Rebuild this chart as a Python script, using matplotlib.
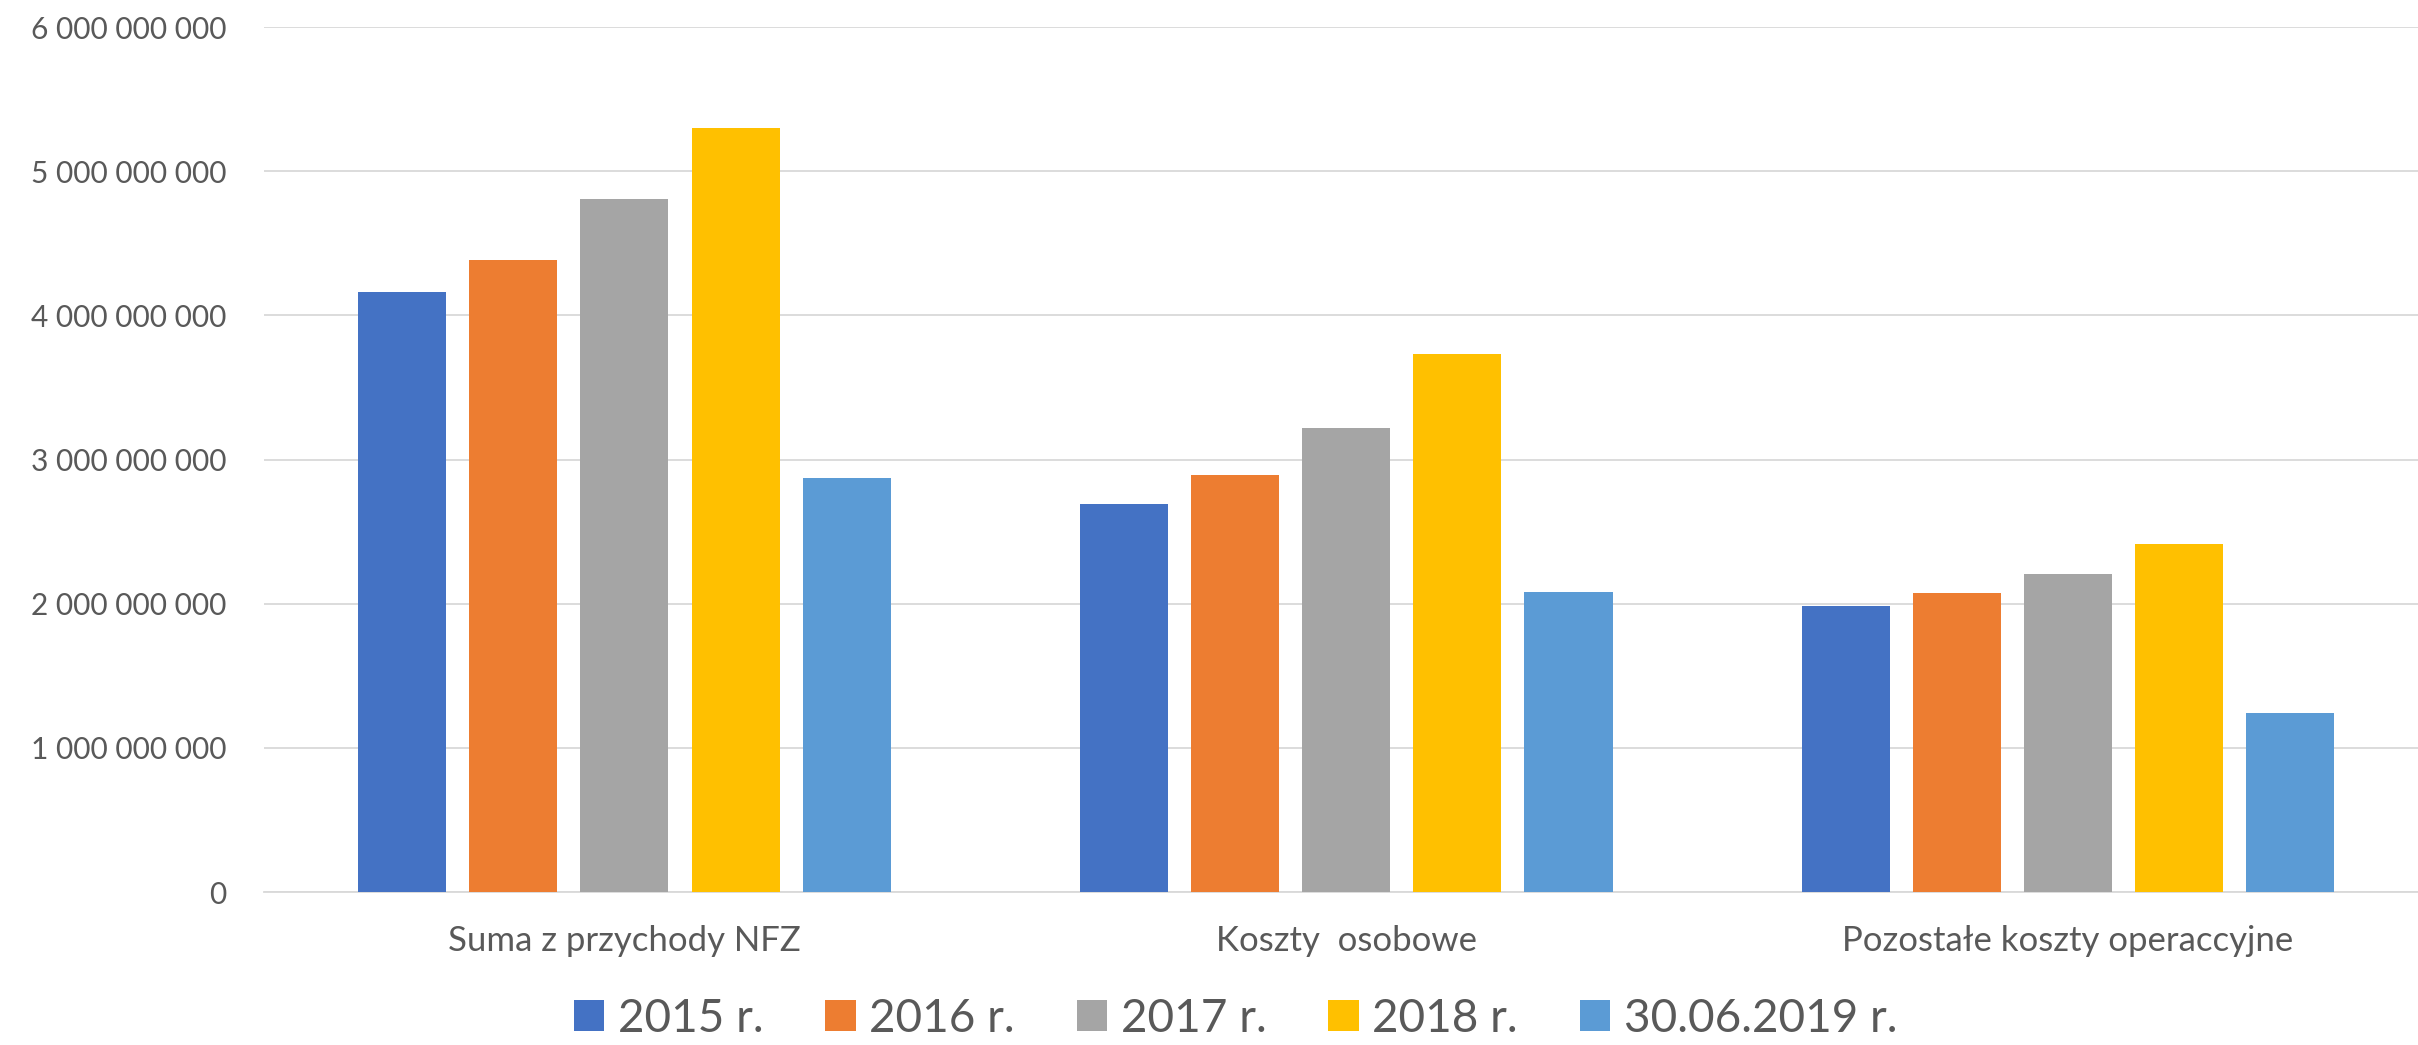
import matplotlib
matplotlib.use("Agg")
import matplotlib.pyplot as plt
import numpy as np
from matplotlib.ticker import FuncFormatter

# data
categories = ["Suma z przychody NFZ", "Koszty  osobowe", "Pozostałe koszty operaccyjne"]
series_labels = ["2015 r.", "2016 r.", "2017 r.", "2018 r.", "30.06.2019 r."]
v2015 = [4.163e9, 2.693e9, 1.983e9]
v2016 = [4.383e9, 2.890e9, 2.073e9]
v2017 = [4.808e9, 3.220e9, 2.203e9]
v2018 = [5.296e9, 3.733e9, 2.413e9]
v2019h1 = [2.873e9, 2.080e9, 1.239e9]
colors = ["#4472C4", "#ED7D31", "#A5A5A5", "#FFC000", "#5B9BD5"]

plt.rcParams['font.family'] = ['Lato', 'DejaVu Sans']
text_color = "#595959"
grid_color = "#D9D9D9"

fig = plt.figure(figsize=(24.18, 10.45), dpi=100)
ax = fig.add_axes([263.6 / 2418, (1045 - 892) / 1045, 1 - 263.6 / 2418, (892 - 27) / 1045])

x = np.arange(len(categories))
width = 0.122
pitch = 0.154
all_values = [v2015, v2016, v2017, v2018, v2019h1]
for i, (vals, lab, col) in enumerate(zip(all_values, series_labels, colors)):
    ax.bar(x + (i - 2) * pitch, vals, width, color=col, label=lab, zorder=3)

ax.set_ylim(0, 6e9)
ax.set_xlim(-0.5, 2.485)
ax.set_yticks(np.arange(0, 6.01e9, 1e9))
ax.yaxis.set_major_formatter(FuncFormatter(lambda v, p: "{:,.0f}".format(v).replace(",", " ")))
ax.set_xticks(x)
ax.set_xticklabels(categories)

ax.grid(axis="y", color=grid_color, linewidth=1.3, zorder=0)
for s in ["top", "right", "left"]:
    ax.spines[s].set_visible(False)
ax.spines["bottom"].set_color(grid_color)
ax.spines["bottom"].set_linewidth(1.3)
ax.tick_params(axis="both", length=0, colors=text_color)
ax.tick_params(axis="y", labelsize=21.5, pad=27)
ax.tick_params(axis="x", labelsize=25, pad=24)

fig.legend(loc="center", bbox_to_anchor=(0.511, 0.025), ncol=5, frameon=False,
           fontsize=33, handlelength=0.66, handleheight=0.66, handletextpad=0.3,
           columnspacing=1.35, borderpad=0, labelcolor=text_color)

fig.savefig("out.png", dpi=100)
